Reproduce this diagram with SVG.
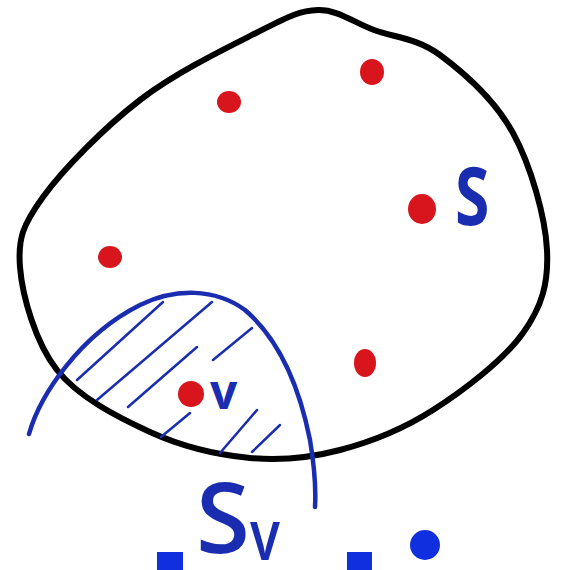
<svg xmlns="http://www.w3.org/2000/svg" width="574" height="570" viewBox="0 0 574 570">
<style>
.blob{fill:none;stroke:#000;stroke-width:6;stroke-linecap:round;stroke-linejoin:round}
.dot{fill:#d8141c}
.blue{fill:none;stroke:#1a2db0;stroke-width:4.5;stroke-linecap:round}
.hatch{fill:none;stroke:#1a2db0;stroke-width:2.5;stroke-linecap:round}
.lbl{font-family:"Open Sans","Liberation Sans",sans-serif;fill:#1a2db0}
.mark{fill:#1030e0}
</style>
<rect width="574" height="570" fill="#fff"/>
<g id="set-S">
<path class="blob" d="M318,10 C337.7,9.5 353.7,22.5 374,30 C394.3,37.5 416.8,37.8 440,55 C463.2,72.2 495.2,100.5 513,133 C530.8,165.5 545.3,216.7 547,250 C548.7,283.3 542,306.3 523,333 C504,359.7 463.5,390.5 433,410 C402.5,429.5 370.5,442 340,450 C309.5,458 281.7,461 250,458 C218.3,455 182.2,446.7 150,432 C117.8,417.3 78.7,397.5 57,370 C35.3,342.5 22.3,295.8 20,267 C17.7,238.2 23,224.8 43,197 C63,169.2 104.5,127.3 140,100 C175.5,72.7 226.3,48 256,33 C285.7,18 298.3,10.5 318,10 Z"/>
</g>
<g id="points">
<ellipse class="dot" cx="229" cy="102" rx="12" ry="11"/>
<ellipse class="dot" cx="372" cy="72" rx="12" ry="13"/>
<ellipse class="dot" cx="422" cy="209" rx="14" ry="15"/>
<ellipse class="dot" cx="110" cy="257" rx="12" ry="11"/>
<ellipse class="dot" cx="365" cy="363" rx="11" ry="14"/>
<ellipse class="dot" cx="191" cy="394" rx="13" ry="13"/>
</g>
<g id="region-Sv">
<path class="blue" d="M29,434 C40,395 80,335 140,305 C175,288 215,288 245,310 C280,340 300,390 310,440 C315,470 316,490 315,507"/>
<path class="hatch" d="M77,380 L163,302 M97,400 L212,302 M128,407 L197,347 M213,360 L252,328 M161,437 L190,413 M220,453 L257,410 M252,452 L280,425"/>
</g>
<g id="labels">
<text class="lbl" transform="translate(455,225) scale(0.78,1)" font-size="80" font-weight="bold">S</text>
<text class="lbl" x="210" y="409" font-size="48" font-weight="bold">v</text>
<text class="lbl" x="196" y="553" font-size="98" font-weight="600">S</text>
<text class="lbl" transform="translate(250,560) scale(0.8,1)" font-size="70" font-weight="600">v</text>
</g>
<g id="bottom-marks">
<rect class="mark" x="157" y="552" width="26" height="18"/>
<rect class="mark" x="347" y="552" width="25" height="18"/>
<circle class="mark" cx="425" cy="545" r="15"/>
</g>
</svg>
